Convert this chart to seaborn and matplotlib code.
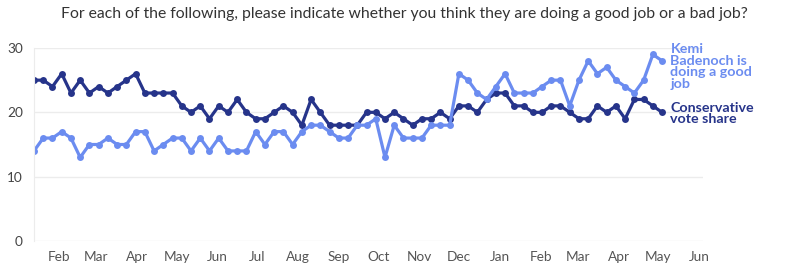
import pandas as pd
import seaborn as sns
import matplotlib.pyplot as plt
import matplotlib.dates as mdates

# weekly polling, Jan 2025 - May 2026
start_date = "2025-01-13"
n_weeks = 69

conservative = [25, 25, 24, 26, 23, 25, 23, 24, 23, 24, 25, 26, 23, 23, 23, 23,
                21, 20, 21, 19, 21, 20, 22, 20, 19, 19, 20, 21, 20, 18, 22, 20,
                18, 18, 18, 18, 20, 20, 19, 20, 19, 18, 19, 19, 20, 19, 21, 21,
                20, 22, 23, 23, 21, 21, 20, 20, 21, 21, 20, 19, 19, 21, 20, 21,
                19, 22, 22, 21, 20]

kemi_good_job = [14, 16, 16, 17, 16, 13, 15, 15, 16, 15, 15, 17, 17, 14, 15, 16,
                 16, 14, 16, 14, 16, 14, 14, 14, 17, 15, 17, 17, 15, 17, 18, 18,
                 17, 16, 16, 18, 18, 19, 13, 18, 16, 16, 16, 18, 18, 18, 26, 25,
                 23, 22, 24, 26, 23, 23, 23, 24, 25, 25, 21, 25, 28, 26, 27, 25,
                 24, 23, 25, 29, 28]

dates = pd.date_range(start_date, periods=n_weeks, freq="7D")
df = pd.DataFrame({"date": dates, "con": conservative, "kemi": kemi_good_job})

DARK = "#26348a"
LIGHT = "#6b8cf0"

sns.set_style("white")
plt.rcParams["font.family"] = ["Lato", "DejaVu Sans"]

fig = plt.figure(figsize=(8.01, 2.73), dpi=100)
ax = fig.add_axes([34 / 801, 32 / 273, 669 / 801, 193 / 273])

sns.lineplot(data=df, x="date", y="con", ax=ax, color=DARK, lw=2.3,
             marker="o", markersize=5, markeredgewidth=0)
sns.lineplot(data=df, x="date", y="kemi", ax=ax, color=LIGHT, lw=2.3,
             marker="o", markersize=5, markeredgewidth=0)

ax.set_ylim(0, 30)
ax.set_yticks([0, 10, 20, 30])
ax.set_xlim(pd.Timestamp(start_date), pd.Timestamp("2026-06-04"))
ax.xaxis.set_major_locator(mdates.MonthLocator())
ax.xaxis.set_major_formatter(mdates.DateFormatter("%b"))

ax.grid(axis="y", color="#ececec", lw=1)
ax.set_axisbelow(True)
for s in ["top", "right", "bottom"]:
    ax.spines[s].set_visible(False)
ax.spines["left"].set_color("#ececec")
ax.tick_params(axis="x", length=4, color="#e6e6e6", labelsize=9.8,
               labelcolor="#555555", pad=3)
ax.tick_params(axis="y", length=0, labelsize=9.8, labelcolor="#444444", pad=8)
ax.set_xlabel("")
ax.set_ylabel("")

# end labels
ax.annotate("Kemi\nBadenoch is\ndoing a good\njob", xy=(dates[-1], kemi_good_job[-1]),
            xytext=(6, -4), textcoords="offset points", va="center", ha="left",
            color=LIGHT, fontsize=10.3, fontweight="bold", linespacing=0.95,
            annotation_clip=False)
ax.annotate("Conservative\nvote share", xy=(dates[-1], conservative[-1]),
            xytext=(6, -1), textcoords="offset points", va="center", ha="left",
            color=DARK, fontsize=10.3, fontweight="bold", linespacing=0.95,
            annotation_clip=False)

fig.text(0.505, 0.948, "For each of the following, please indicate whether you think "
         "they are doing a good job or a bad job?", ha="center", va="center",
         fontsize=11.3, color="#333333")

fig.savefig("out.png", dpi=100)
